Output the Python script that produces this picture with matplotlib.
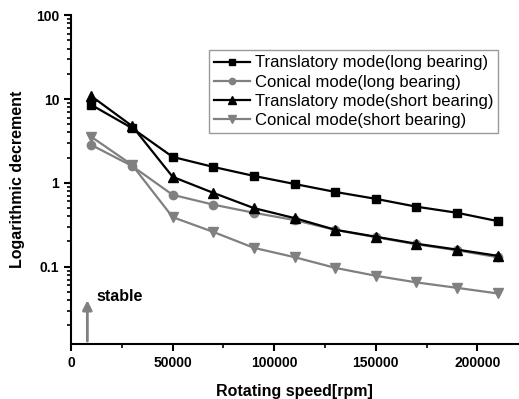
import numpy as np
import matplotlib.pyplot as plt
from matplotlib.ticker import FixedLocator, LogLocator, NullFormatter

plt.rcParams['font.family'] = ['Liberation Sans', 'DejaVu Sans']

speed = [10000, 30000, 50000, 70000, 90000, 110000, 130000, 150000, 170000, 190000, 210000]
trans_long = [8.5, 4.5, 2.04, 1.55, 1.21, 0.97, 0.78, 0.645, 0.52, 0.44, 0.35]
conic_long = [2.83, 1.59, 0.72, 0.55, 0.44, 0.36, 0.275, 0.225, 0.185, 0.157, 0.13]
trans_short = [10.8, 4.77, 1.18, 0.76, 0.50, 0.38, 0.276, 0.228, 0.188, 0.16, 0.135]
conic_short = [3.53, 1.64, 0.39, 0.26, 0.168, 0.13, 0.097, 0.078, 0.065, 0.056, 0.048]

labels = ['Translatory mode(long bearing)', 'Conical mode(long bearing)',
          'Translatory mode(short bearing)', 'Conical mode(short bearing)']

black = '#000000'
grey = '#808080'

fig = plt.figure(figsize=(5.19, 3.99), dpi=100)
ax = fig.add_axes([0.137, 0.138, 0.861, 0.824])

ax.plot(speed, trans_long, color=black, marker='s', ms=6, lw=1.6, label=labels[0])
ax.plot(speed, conic_long, color=grey, marker='o', ms=6, lw=1.6, label=labels[1])
ax.plot(speed, trans_short, color=black, marker='^', ms=7, lw=1.6, label=labels[2])
ax.plot(speed, conic_short, color=grey, marker='v', ms=7, lw=1.6, label=labels[3])

ax.set_yscale('log')
ax.set_xlim(0, 220000)
ax.set_ylim(0.012, 100)

ax.set_xticks([0, 50000, 100000, 150000, 200000])
ax.xaxis.set_minor_locator(FixedLocator([25000, 75000, 125000, 175000]))
ax.set_yticks([0.1, 1, 10, 100])
ax.set_yticklabels(['0.1', '1', '10', '100'])
ax.yaxis.set_minor_locator(LogLocator(base=10, subs=np.arange(2, 10)))
ax.yaxis.set_minor_formatter(NullFormatter())

for s in ['top', 'right']:
    ax.spines[s].set_visible(False)
for s in ['left', 'bottom']:
    ax.spines[s].set_linewidth(1.5)

ax.tick_params(which='major', direction='out', length=5, width=1.5, labelsize=10)
ax.tick_params(which='minor', direction='out', length=3, width=1.2)
for t in ax.get_xticklabels() + ax.get_yticklabels():
    t.set_fontweight('bold')

ax.set_xlabel('Rotating speed[rpm]', fontsize=11.5, fontweight='bold', labelpad=10)
ax.set_ylabel('Logarithmic decrement', fontsize=11.5, fontweight='bold', labelpad=8)

# stable arrow
ax.annotate('', xy=(8000, 0.043), xytext=(8000, 0.012),
            arrowprops=dict(arrowstyle='-|>', color=grey, lw=2, mutation_scale=14))
ax.text(12500, 0.044, 'stable', fontsize=11.5, fontweight='bold', va='center', ha='left')

leg = ax.legend(loc='upper right', bbox_to_anchor=(0.974, 0.918), fontsize=12,
                frameon=True, fancybox=False, edgecolor=grey, handlelength=2.2,
                handletextpad=0.25, labelspacing=0.25, borderpad=0.3, markerscale=0.75)
leg.get_frame().set_linewidth(1.0)

fig.savefig('out.png', dpi=100)
